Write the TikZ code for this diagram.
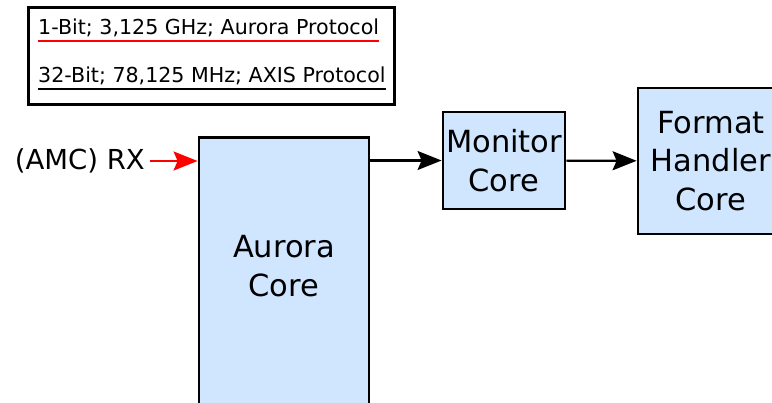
\documentclass[tikz,border=0pt]{standalone}
\usepackage{fontspec}
\setmainfont{DejaVu Sans}
\usetikzlibrary{arrows.meta,positioning}
\definecolor{CoreFill}{HTML}{D0E6FF}
\definecolor{RxRed}{HTML}{FF0000}

\tikzset{
  coreblock/.style={draw=black, fill=CoreFill, line width=2.8pt, align=center, inner sep=0pt, font=\fontsize{30.5}{38.5}\selectfont},
  legendtext/.style={anchor=base west, inner sep=0pt, font=\fontsize{20.6}{24}\selectfont},
  flow/.style={-{Stealth[length=24pt, width=19pt, inset=4pt]}, line width=2.2pt},
}

\begin{document}
\begin{tikzpicture}[x=1pt, y=-1pt]
  \useasboundingbox (0,0) rectangle (772,403);
  \clip (0,0) rectangle (772,403);

  % legend
  \node[draw, line width=2.8pt, minimum width=366pt, minimum height=97pt, anchor=north west] (legend) at (27,6) {};
  \node[legendtext] (aurorabus) at (38,35) {1-Bit; 3,125 GHz; Aurora Protocol};
  \node[legendtext] (axisbus) at (38,83) {32-Bit; 78,125 MHz; AXIS Protocol};
  \draw[RxRed, line width=2.4pt] ([yshift=-6pt]aurorabus.base west) -- ([yshift=-6pt]aurorabus.base east);
  \draw[black, line width=2.4pt] ([yshift=-6pt]axisbus.base west) -- ([yshift=-6pt]axisbus.base east);

  % cores
  \node[coreblock, minimum width=170pt, minimum height=300pt, anchor=north] (aurora) at (284,136) {};
  \node[align=center, inner sep=0pt, font=\fontsize{30.5}{38.5}\selectfont] (auroratext) at (284,266) {Aurora\\Core};
  \node[coreblock, minimum width=122pt, minimum height=97pt] (monitor) at (504,160.5) {Monitor\\Core};
  \node[coreblock, minimum width=146pt, minimum height=146pt] (format) at (711,161) {Format\\Handler\\Core};

  \node[anchor=east, inner sep=0pt, font=\fontsize{27.5}{34}\selectfont] (rx) at (145,161) {(AMC) RX};

  \draw[flow, RxRed] ([xshift=5pt]rx.east) -- (aurora.west |- rx);
  \draw[flow] (aurora.east |- monitor) -- (monitor.west);
  \draw[flow] (monitor) -- (format);
\end{tikzpicture}
\end{document}
